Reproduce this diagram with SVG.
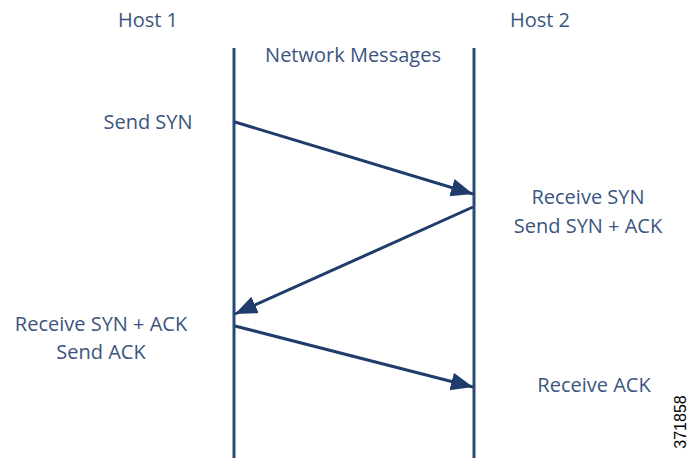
<svg xmlns="http://www.w3.org/2000/svg" width="690" height="458" viewBox="0 0 690 458">
<style>
text{font-family:"Open Sans","Liberation Sans",sans-serif;font-size:20px;fill:#3b5580;text-anchor:middle}
.ll{stroke:#2b4a78;stroke-width:3;fill:none}
.msg{stroke:#1f3c6b;stroke-width:3;fill:none;marker-end:url(#ah)}
.id{font-family:"Liberation Sans",Arial,sans-serif;font-size:16px;fill:#000}
</style>
<defs>
<marker id="ah" markerUnits="userSpaceOnUse" markerWidth="24" markerHeight="20" refX="22" refY="9" orient="auto">
<path d="M0,0 L22,9 L0,18 Z" fill="#1f3c6b"/>
</marker>
</defs>
<rect width="690" height="458" fill="#fff"/>
<g id="host1"><text x="148" y="27">Host 1</text><line class="ll" x1="234" y1="48" x2="234" y2="458"/></g>
<g id="host2"><text x="540" y="27">Host 2</text><line class="ll" x1="474" y1="48" x2="474" y2="458"/></g>
<g id="network"><text x="353" y="62">Network Messages</text></g>
<g id="send-syn"><text x="148" y="129">Send SYN</text></g>
<g id="recv-syn"><text x="588" y="204">Receive SYN</text><text x="588" y="233">Send SYN + ACK</text></g>
<g id="recv-synack"><text x="101" y="331">Receive SYN + ACK</text><text x="101" y="359">Send ACK</text></g>
<g id="recv-ack"><text x="594" y="392">Receive ACK</text></g>
<g id="connectors">
<line class="msg" x1="235" y1="122" x2="473" y2="194"/>
<line class="msg" x1="473" y1="207" x2="235" y2="314"/>
<line class="msg" x1="235" y1="326" x2="473" y2="387"/>
</g>
<text class="id" transform="translate(686,422) rotate(-90)">371858</text>
</svg>
